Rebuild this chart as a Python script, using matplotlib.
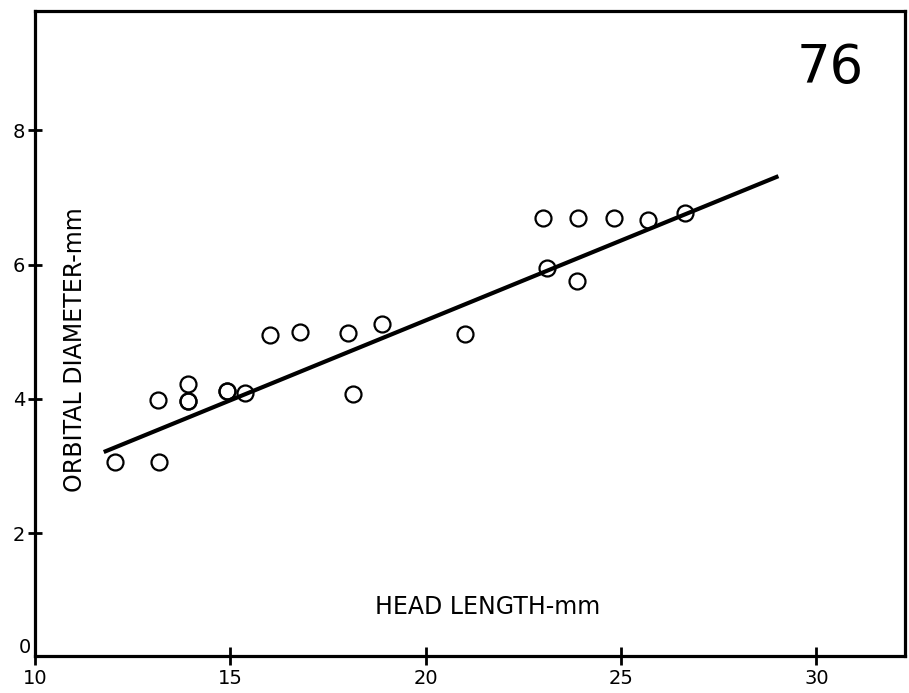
import matplotlib
matplotlib.use("Agg")
import matplotlib.pyplot as plt
import numpy as np

# head length (mm) vs orbital diameter (mm)
head_len = [12.06, 13.18, 13.15, 13.92, 13.92, 13.92, 14.91, 14.91, 15.38,
            16.02, 16.79, 18.02, 18.89, 18.15, 21.01,
            23.00, 23.90, 24.83, 25.70, 26.64, 23.10, 23.87]
orb_diam = [3.06, 3.06, 3.98, 4.23, 3.97, 3.97, 4.12, 4.12, 4.09,
            4.95, 5.00, 4.98, 5.12, 4.07, 4.97,
            6.69, 6.69, 6.69, 6.67, 6.77, 5.95, 5.75]

# fitted regression line
fit_slope = 0.238
fit_icept = 0.41
fit_range = [11.76, 29.03]

xticks = [10, 15, 20, 25, 30]
yticks = [2, 4, 6, 8]

fig = plt.figure(figsize=(9.09, 6.93), dpi=100)
ax = fig.add_axes([35/909, 37/693, 870/909, 645/693])

fx = np.array(fit_range)
ax.plot(fx, fit_icept + fit_slope*fx, color="black", lw=3.0, solid_capstyle="butt")
ax.plot(head_len, orb_diam, "o", mfc="none", mec="black", ms=11.5, mew=1.6)

ax.set_xlim(10, 32.27)
ax.set_ylim(0.17, 9.78)
ax.set_xticks(xticks)
ax.set_xticklabels([str(t) for t in xticks])
ax.set_yticks(yticks)
ax.set_yticklabels([str(t) for t in yticks])
for s in ax.spines.values():
    s.set_linewidth(2.3)
ax.tick_params(axis="x", direction="inout", length=13, width=2, labelsize=14, pad=3)
ax.tick_params(axis="y", direction="inout", length=10, width=2, labelsize=14, pad=2)

ax.annotate("0", xy=(0, 0), xycoords="axes fraction", xytext=(-7, 6),
            textcoords="offset points", ha="center", va="center", fontsize=14)

ax.text((488-35)/870, (656-607)/645, "HEAD LENGTH-mm", transform=ax.transAxes,
        ha="center", va="center", fontsize=17)
ax.text((75-35)/870, (656-350)/645, "ORBITAL DIAMETER-mm", transform=ax.transAxes,
        ha="center", va="center", rotation=90, fontsize=17)
ax.text((830-35)/870, (656-68)/645, "76", transform=ax.transAxes,
        ha="center", va="center", fontsize=38)

fig.savefig("out.png", dpi=100)
